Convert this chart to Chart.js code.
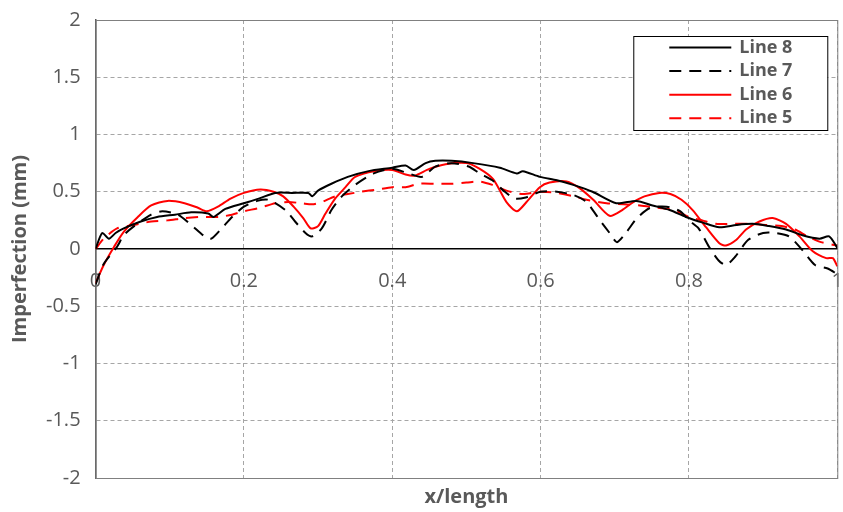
<!DOCTYPE html>
<html>
<head>
<meta charset="utf-8">
<script src="https://cdn.jsdelivr.net/npm/chart.js@4"></script>
<style>
  html, body { margin: 0; padding: 0; background: #fff; }
</style>
</head>
<body>
<canvas id="imperfection-chart" width="843" height="512"></canvas>
<script>
// x/length positions and measured imperfection (mm) for each line
const line8X = [0, 0.009, 0.018, 0.027, 0.038, 0.061, 0.083, 0.107, 0.129, 0.152, 0.159, 0.175, 0.2, 0.22, 0.242, 0.265, 0.287, 0.292, 0.3, 0.318, 0.34, 0.368, 0.4, 0.418, 0.429, 0.445, 0.458, 0.48, 0.509, 0.545, 0.568, 0.576, 0.599, 0.622, 0.644, 0.67, 0.702, 0.729, 0.751, 0.774, 0.796, 0.819, 0.841, 0.864, 0.886, 0.908, 0.931, 0.953, 0.976, 0.989, 1.0];
const line8Y = [0, 0.14, 0.09, 0.14, 0.18, 0.24, 0.28, 0.30, 0.32, 0.31, 0.28, 0.35, 0.40, 0.44, 0.49, 0.49, 0.49, 0.46, 0.51, 0.57, 0.63, 0.68, 0.71, 0.73, 0.69, 0.75, 0.77, 0.77, 0.75, 0.71, 0.66, 0.68, 0.63, 0.60, 0.56, 0.50, 0.40, 0.42, 0.38, 0.34, 0.28, 0.23, 0.19, 0.21, 0.22, 0.20, 0.17, 0.12, 0.09, 0.11, 0.01];

const line7X = [0, 0.011, 0.029, 0.038, 0.052, 0.075, 0.09, 0.111, 0.129, 0.147, 0.156, 0.17, 0.184, 0.2, 0.218, 0.233, 0.256, 0.269, 0.283, 0.292, 0.305, 0.318, 0.332, 0.35, 0.375, 0.4, 0.422, 0.44, 0.458, 0.48, 0.503, 0.518, 0.535, 0.55, 0.565, 0.58, 0.6, 0.622, 0.645, 0.662, 0.68, 0.693, 0.703, 0.716, 0.73, 0.748, 0.77, 0.788, 0.8, 0.813, 0.827, 0.84, 0.85, 0.862, 0.88, 0.9, 0.917, 0.935, 0.953, 0.97, 0.987, 1.0];
const line7Y = [-0.31, -0.13, 0.02, 0.12, 0.20, 0.30, 0.33, 0.30, 0.21, 0.11, 0.09, 0.18, 0.28, 0.37, 0.42, 0.43, 0.34, 0.24, 0.14, 0.11, 0.18, 0.34, 0.46, 0.56, 0.66, 0.70, 0.66, 0.63, 0.72, 0.75, 0.72, 0.66, 0.60, 0.51, 0.44, 0.45, 0.50, 0.50, 0.47, 0.41, 0.25, 0.14, 0.06, 0.15, 0.27, 0.36, 0.37, 0.33, 0.25, 0.18, 0.02, -0.10, -0.14, -0.07, 0.08, 0.14, 0.14, 0.11, -0.01, -0.14, -0.17, -0.22];

const line6X = [0, 0.011, 0.025, 0.038, 0.057, 0.075, 0.097, 0.12, 0.138, 0.15, 0.165, 0.182, 0.2, 0.222, 0.24, 0.253, 0.267, 0.28, 0.29, 0.3, 0.31, 0.323, 0.337, 0.35, 0.377, 0.4, 0.418, 0.43, 0.45, 0.472, 0.5, 0.518, 0.536, 0.554, 0.568, 0.581, 0.599, 0.612, 0.635, 0.653, 0.671, 0.693, 0.71, 0.725, 0.74, 0.76, 0.775, 0.79, 0.805, 0.823, 0.841, 0.85, 0.864, 0.877, 0.895, 0.913, 0.931, 0.949, 0.967, 0.985, 0.994, 1.0];
const line6Y = [-0.30, -0.14, 0.02, 0.15, 0.28, 0.38, 0.42, 0.40, 0.36, 0.33, 0.37, 0.44, 0.49, 0.52, 0.50, 0.46, 0.37, 0.27, 0.18, 0.20, 0.31, 0.44, 0.54, 0.63, 0.68, 0.69, 0.65, 0.64, 0.70, 0.74, 0.75, 0.70, 0.61, 0.41, 0.33, 0.41, 0.54, 0.58, 0.59, 0.53, 0.43, 0.29, 0.34, 0.41, 0.46, 0.49, 0.48, 0.43, 0.34, 0.19, 0.05, 0.03, 0.08, 0.17, 0.24, 0.27, 0.22, 0.11, -0.02, -0.08, -0.08, -0.15];

const line5X = [0, 0.011, 0.029, 0.052, 0.075, 0.097, 0.12, 0.143, 0.166, 0.184, 0.2, 0.222, 0.242, 0.26, 0.278, 0.292, 0.305, 0.323, 0.34, 0.358, 0.38, 0.4, 0.418, 0.436, 0.458, 0.48, 0.5, 0.518, 0.535, 0.554, 0.576, 0.6, 0.622, 0.645, 0.662, 0.689, 0.712, 0.734, 0.757, 0.78, 0.8, 0.818, 0.836, 0.858, 0.88, 0.903, 0.925, 0.943, 0.96, 0.978, 1.0];
const line5Y = [0, 0.09, 0.18, 0.21, 0.24, 0.25, 0.27, 0.28, 0.28, 0.30, 0.33, 0.36, 0.40, 0.41, 0.40, 0.39, 0.41, 0.46, 0.48, 0.50, 0.52, 0.54, 0.54, 0.57, 0.57, 0.57, 0.58, 0.59, 0.56, 0.51, 0.48, 0.50, 0.49, 0.46, 0.43, 0.40, 0.39, 0.38, 0.36, 0.34, 0.28, 0.25, 0.22, 0.22, 0.22, 0.21, 0.20, 0.17, 0.11, 0.06, 0.03];

const seriesLabels = ["Line 8", "Line 7", "Line 6", "Line 5"];

const textColor = "#595959";
const gridColor = "#a6a6a6";

function toPoints(xs, ys) {
    return xs.map((x, i) => ({ x: x, y: ys[i] }));
}

// legend box drawn inside the plot, top right
const insideLegend = {
    id: "insideLegend",
    afterDraw(chart) {
        const { ctx, chartArea } = chart;
        const boxW = 194, boxH = 94;
        const boxX = chartArea.right - 204;
        const boxY = chartArea.top + 16;

        ctx.save();
        ctx.fillStyle = "#ffffff";
        ctx.fillRect(boxX, boxY, boxW, boxH);
        ctx.strokeStyle = "#000000";
        ctx.lineWidth = 1;
        ctx.strokeRect(boxX + 0.5, boxY + 0.5, boxW, boxH);

        chart.data.datasets.forEach((ds, i) => {
            const y = boxY + 11.5 + i * 23.6;
            ctx.setLineDash(ds.borderDash || []);
            ctx.strokeStyle = ds.borderColor;
            ctx.lineWidth = 2;
            ctx.beginPath();
            ctx.moveTo(boxX + 36, y);
            ctx.lineTo(boxX + 98, y);
            ctx.stroke();

            ctx.setLineDash([]);
            ctx.fillStyle = textColor;
            ctx.font = "bold 18px 'Open Sans', sans-serif";
            ctx.textBaseline = "middle";
            ctx.textAlign = "left";
            ctx.fillText(ds.label, boxX + 106, y);
        });
        ctx.restore();
    }
};

// grey frame round the plot area
const plotFrame = {
    id: "plotFrame",
    beforeDatasetsDraw(chart) {
        const { ctx, chartArea } = chart;
        ctx.save();
        ctx.strokeStyle = "#808080";
        ctx.lineWidth = 1;
        ctx.strokeRect(chartArea.left + 0.5, chartArea.top + 0.5,
            chartArea.right - chartArea.left, chartArea.bottom - chartArea.top);
        ctx.restore();
    }
};

Chart.defaults.font.family = "'Open Sans', sans-serif";

const ctx = document.getElementById("imperfection-chart").getContext("2d");
const chart = new Chart(ctx, {
    type: "line",
    data: {
        datasets: [
            { label: seriesLabels[0], data: toPoints(line8X, line8Y), borderColor: "#000000", borderWidth: 2 },
            { label: seriesLabels[1], data: toPoints(line7X, line7Y), borderColor: "#000000", borderWidth: 2, borderDash: [12, 8] },
            { label: seriesLabels[2], data: toPoints(line6X, line6Y), borderColor: "#ff0000", borderWidth: 2 },
            { label: seriesLabels[3], data: toPoints(line5X, line5Y), borderColor: "#ff0000", borderWidth: 2, borderDash: [12, 8] },
        ],
    },
    options: {
        responsive: false,
        animation: false,
        elements: { point: { radius: 0 }, line: { tension: 0.25 } },
        layout: { padding: { left: 0, right: 5, top: 20, bottom: 0 } },
        scales: {
            x: {
                type: "linear",
                min: 0,
                max: 1,
                position: { y: 0 },
                ticks: {
                    stepSize: 0.2,
                    color: textColor,
                    font: { size: 20 },
                    padding: 0,
                    callback: (v) => +v.toFixed(1),
                },
                grid: { color: gridColor, tickColor: "rgba(0,0,0,0)", tickLength: 20 },
                border: { color: "#000000", width: 1.5, dash: [4, 3] },
            },
            y: {
                min: -2,
                max: 2,
                ticks: {
                    stepSize: 0.5,
                    color: textColor,
                    font: { size: 20 },
                    padding: 0,
                    callback: (v) => +v.toFixed(1),
                },
                grid: {
                    color: (c) => (c.tick && c.tick.value === 0 ? "rgba(0,0,0,0)" : gridColor),
                    tickColor: "rgba(0,0,0,0)",
                    tickLength: 15,
                },
                border: { color: textColor, width: 1.5, dash: [4, 3] },
                title: {
                    display: true,
                    text: "Imperfection (mm)",
                    color: textColor,
                    font: { size: 20, weight: "bold" },
                    padding: { top: 8, bottom: 14 },
                },
            },
        },
        plugins: {
            legend: { display: false },
            tooltip: { enabled: false },
            title: {
                display: true,
                position: "bottom",
                fullSize: false,
                text: "x/length",
                color: textColor,
                font: { size: 20, weight: "bold" },
                padding: { top: 7, bottom: 3 },
            },
        },
    },
    plugins: [insideLegend, plotFrame],
});
</script>
</body>
</html>
